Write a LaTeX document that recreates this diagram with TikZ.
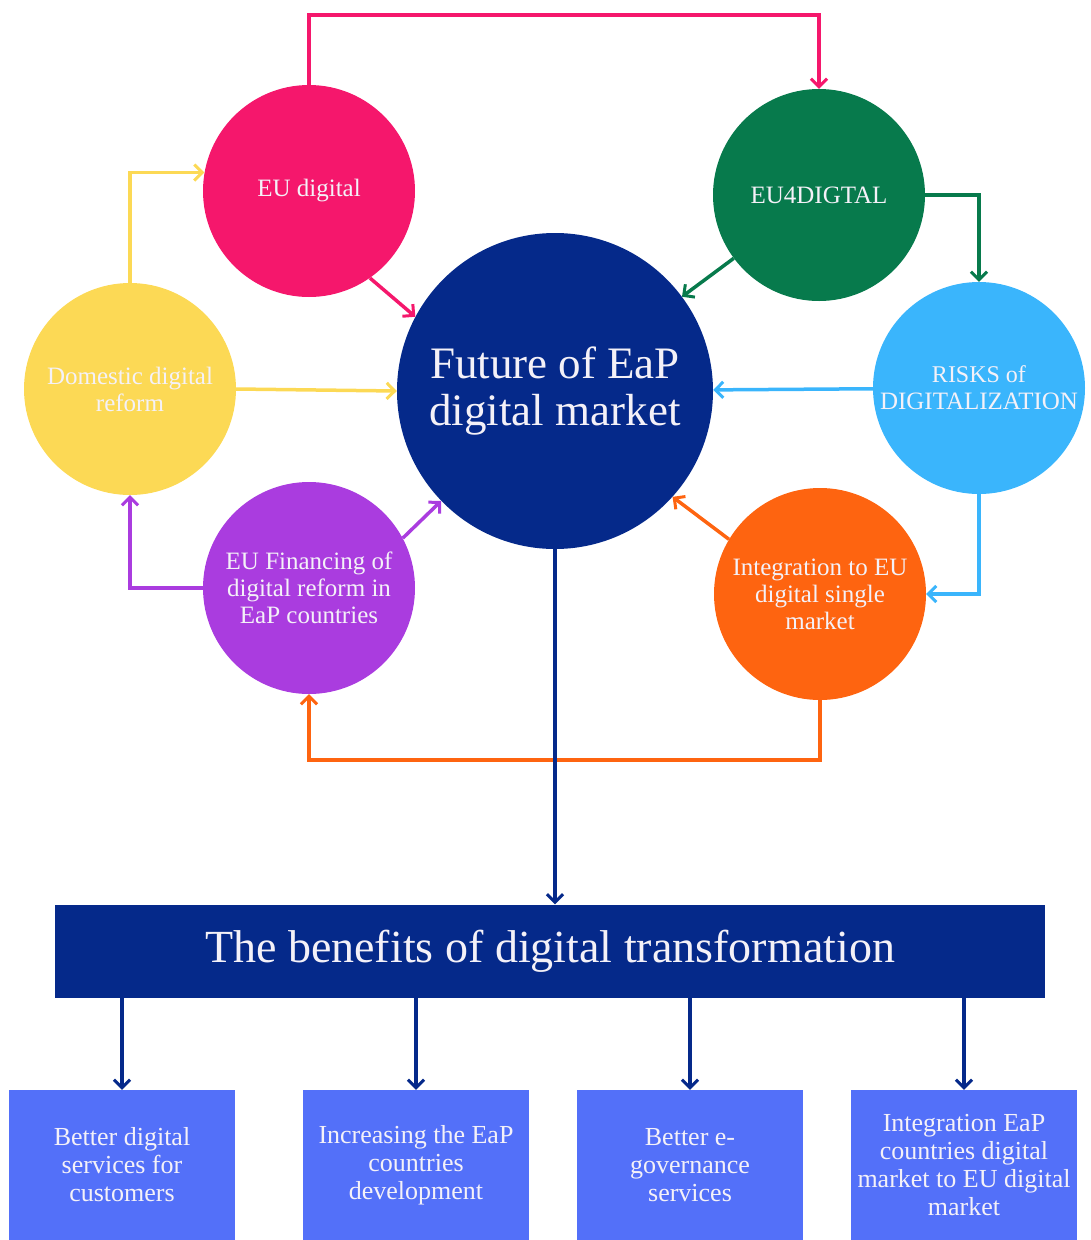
\documentclass[tikz,border=0pt]{standalone}
\usepackage{fontspec}
\setmainfont{Liberation Serif}
\usetikzlibrary{arrows.meta}

\definecolor{cPink}{HTML}{F5176C}
\definecolor{cGreen}{HTML}{077A4C}
\definecolor{cYellow}{HTML}{FCD955}
\definecolor{cSky}{HTML}{3AB5FC}
\definecolor{cPurple}{HTML}{AA3CDF}
\definecolor{cOrange}{HTML}{FE6410}
\definecolor{cNavy}{HTML}{05298A}
\definecolor{cBox}{HTML}{5370F9}
\definecolor{cText}{HTML}{F4F1F8}

\tikzset{
  bubble/.style={circle, fill=#1, draw=none, minimum size=212pt, inner sep=0pt,
    text=cText, align=center, font=\fontsize{25}{27}\selectfont},
  hub/.style={circle, fill=cNavy, minimum size=316pt, inner sep=0pt,
    text=cText, align=center, font=\fontsize{45}{47}\selectfont},
  banner/.style={rectangle, fill=cNavy, minimum width=990pt, minimum height=93pt,
    text=cText, font=\fontsize{46}{50}\selectfont},
  benefit/.style={rectangle, fill=cBox, minimum width=226pt, minimum height=150pt,
    inner sep=1pt, text=cText, align=center, font=\fontsize{26}{28}\selectfont},
  link/.style={draw=#1, line width=3.5pt,
    -{Straight Barb[length=8pt,width=16pt,line width=3pt]}},
}

\begin{document}
\begin{tikzpicture}[x=1pt, y=-1pt]
  \useasboundingbox (0,0) rectangle (1091,1240);

  % central hub and the six surrounding bubbles
  \node[hub] (fut) at (555,391) {Future of EaP\\digital market};
  \node[bubble=cPink]   (eud)  at (309,191) {EU digital};
  \node[bubble=cGreen]  (eu4)  at (819,195) {EU4DIGTAL};
  \node[bubble=cYellow] (dom)  at (130,389) {Domestic digital\\reform};
  \node[bubble=cSky]    (risk) at (979,388) {\fontsize{24}{27}\selectfont RISKS of\\DIGITALIZATION};
  \node[bubble=cPurple] (fin)  at (309,588) {EU Financing of\\digital reform in\\EaP countries};
  \node[bubble=cOrange] (integ) at (820,594) {Integration to EU\\digital single\\market};

  % benefits banner and result boxes
  \node[banner] (ben) at (550,951) {The benefits of digital transformation};
  \node[benefit] (b1) at (122,1165) {Better digital\\services for\\customers};
  \node[benefit] (b2) at (416,1165) {Increasing the EaP\\countries\\development};
  \node[benefit] (b3) at (690,1165) {Better e-\\governance\\services};
  \node[benefit] (b4) at (964,1165) {Integration EaP\\countries digital\\market to EU digital\\market};

  % elbow levels for the routed connectors
  \coordinate (toprail) at (0,15);
  \coordinate (lowrail) at (0,760);

  % cycle of connectors around the hub
  \draw[link=cPink] (eud.north) -- (eud.north |- toprail) -| (eu4.north);
  \draw[link=cPink] (eud.-55) -- (fut.152);
  \draw[link=cGreen] (eu4.east) -| (risk.north);
  \draw[link=cGreen] (eu4) -- (fut);
  \draw[link=cSky] (risk) -- (fut);
  \draw[link=cSky] (risk.south) |- (integ.east);
  \draw[link=cOrange] (integ.149) -- (fut.318);
  \draw[link=cOrange] (integ.south) -- (integ.south |- lowrail) -| (fin.south);
  \draw[link=cPurple] (fin.28) -- (fut.224);
  \draw[link=cPurple] (fin.west) -| (dom.south);
  \draw[link=cYellow] (dom.east) -- (fut.west);
  \draw[link=cYellow] (dom.north) |- (eud.170);

  % hub to banner, banner to boxes
  \draw[link=cNavy] (fut.south) -- (fut.south |- ben.north);
  \foreach \b in {b1,b2,b3,b4}
    \draw[link=cNavy] (ben.south -| \b.north) -- (\b.north);
\end{tikzpicture}
\end{document}
